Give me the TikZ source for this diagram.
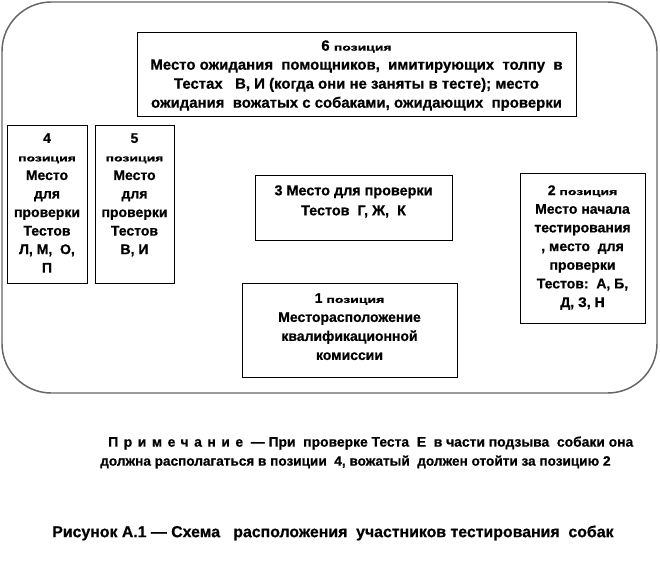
\documentclass[tikz,border=0pt]{standalone}
\usepackage{fontspec}
\usepackage{graphicx}
\setmainfont{Liberation Sans}[BoldFeatures={FakeBold=0.6}]
\usetikzlibrary{shadows}
\newcommand{\poz}{{\fontsize{7}{9}\selectfont\scalebox{1.5}[1]{позиция}}}
\newcommand{\dsp}{\ \ }
\tikzset{
  box/.style={draw=black, line width=0.6pt, fill=white, inner sep=0pt,
    drop shadow={shadow xshift=1.1pt, shadow yshift=-1.1pt, fill=black!55, opacity=1}},
  txt/.style={anchor=north, inner sep=0pt, align=center, font=\bfseries\fontsize{10.5}{13.9}\selectfont},
  note/.style={anchor=west, inner sep=0pt, font=\bfseries\fontsize{10.4}{12}\selectfont},
}
\begin{document}
\begin{tikzpicture}[x=0.75pt,y=-0.75pt]
\useasboundingbox[fill=white] (0,0) rectangle (660,577);
\draw[draw=black!60, line width=1.1pt, rounded corners=37pt] (2,2) rectangle (657,393);

\node[box, minimum width=439*0.75pt, minimum height=84*0.75pt] (b6) at (356.5,74) {};
\node[txt, font=\bfseries\fontsize{11.2}{14.25}\selectfont] (t6) at (356.5,40)
  {6 \poz\\Место ожидания\dsp помощников,\dsp имитирующих\dsp толпу\dsp в\\Тестах\ \ \ В, И (когда они не заняты в тесте); место\\ожидания\dsp вожатых с собаками, ожидающих\dsp проверки};

\node[box, minimum width=80*0.75pt, minimum height=158*0.75pt] (b4) at (47,204) {};
\node[txt] (t4) at (47,133) {4\\\poz\\Место\\для\\проверки\\Тестов\\Л, М,\dsp О,\\П};

\node[box, minimum width=79*0.75pt, minimum height=158*0.75pt] (b5) at (134.5,204) {};
\node[txt] (t5) at (134.5,133) {5\\\poz\\Место\\для\\проверки\\Тестов\\В, И};

\node[box, minimum width=197*0.75pt, minimum height=65*0.75pt] (b3) at (353.5,207.5) {};
\node[txt, font=\bfseries\fontsize{10.8}{15}\selectfont] (t3) at (353.5,185) {3 Место для проверки\\Тестов\dsp Г, Ж,\dsp К};

\node[box, minimum width=125*0.75pt, minimum height=150*0.75pt] (b2) at (582.5,248) {};
\node[txt, font=\bfseries\fontsize{10.5}{14}\selectfont] (t2) at (582.5,185) {2 \poz\\Место начала\\тестирования\\, место\dsp для\\проверки\\Тестов:\dsp А, Б,\\Д, З, Н};

\node[box, minimum width=215*0.75pt, minimum height=94*0.75pt] (b1) at (349.5,330) {};
\node[txt, font=\bfseries\fontsize{10.5}{14.25}\selectfont] (t1) at (349.5,293) {1 \poz\\Месторасположение\\квалификационной\\комиссии};

\node[note] (n1) at (108,443) {{\addfontfeatures{LetterSpace=40}Примечание}\dsp — При\dsp проверке Теста\dsp Е\dsp в части подзыва\dsp собаки она};
\node[note, font=\bfseries\fontsize{10.2}{12}\selectfont] (n2) at (100,462) {должна располагаться в позиции\dsp 4, вожатый\dsp должен отойти за позицию 2};
\node[note, font=\bfseries\fontsize{11.9}{13}\selectfont] (cap) at (52,533) {Рисунок А.1 — Схема\ \ \ расположения\dsp участников тестирования\dsp собак};
\end{tikzpicture}
\end{document}
